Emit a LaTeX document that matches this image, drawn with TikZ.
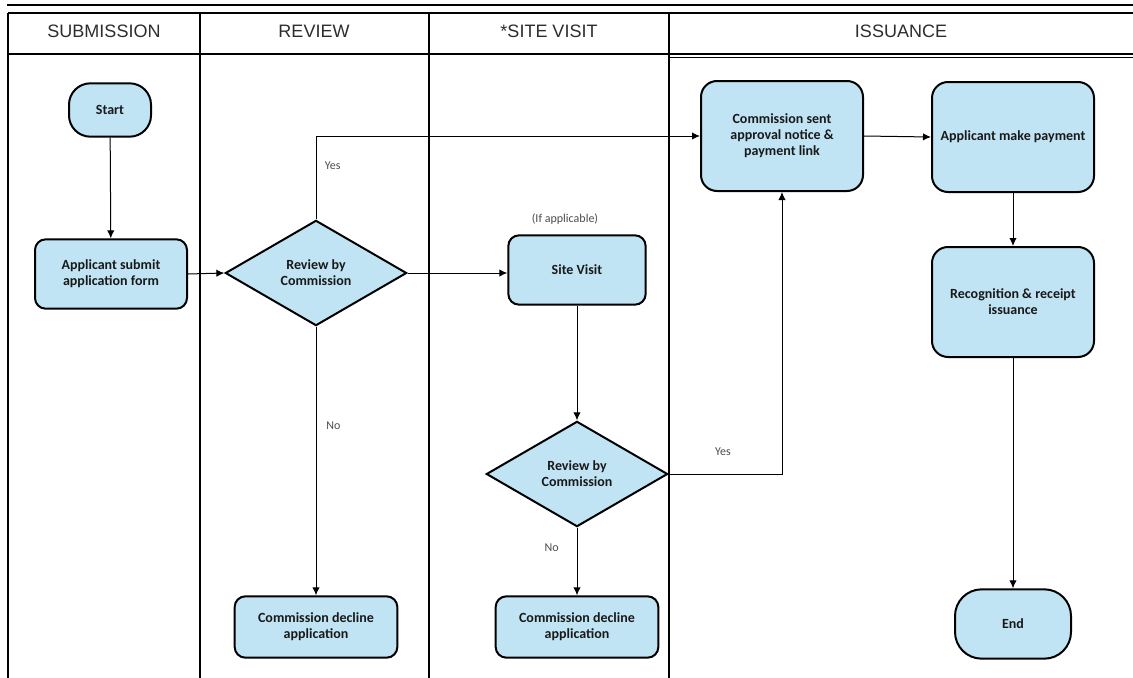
\documentclass[tikz,border=0pt]{standalone}
\usepackage{fontspec}
\setmainfont{Carlito}
\newfontfamily\lanefont{Liberation Sans}
\usepackage{tikz}
\usetikzlibrary{shapes,arrows,positioning,calc,arrows.meta}

\definecolor{boxblue}{RGB}{193,228,244}
\definecolor{lanegray}{RGB}{45,45,45}

\begin{document}
\begin{tikzpicture}[x=0.75pt, y=-0.75pt,
    box/.style={draw, line width=1.5pt, fill=boxblue, rounded corners=8pt, align=center,
        font=\bfseries\fontsize{10.5}{12}\selectfont, text=black!90},
    bigbox/.style={box, rounded corners=12pt, minimum width=121.5pt, minimum height=82.5pt},
    terminal/.style={box, minimum height=52pt},
    decision/.style={box, diamond, rounded corners=0pt, minimum width=136pt, minimum height=79pt, inner sep=0pt},
    flow/.style={-{Latex[length=6pt,width=5.5pt]}, line width=0.75pt},
    lane/.style={font=\lanefont\fontsize{13.5}{15}\selectfont, text=lanegray},
    note/.style={font=\fontsize{9}{10}\selectfont, text=black!70}]

    \useasboundingbox (0,0) rectangle (1133,678);

    % Swimlanes
    \draw[line width=1pt] (7,5) -- (1133,5);
    \draw[line width=0.8pt] (8,13) -- (1133,13);
    \draw[line width=0.8pt] (8,54) -- (1133,54);
    \draw (669,57) -- (1133,57);
    \draw[line width=0.8pt] (8,13) -- (8,678);
    \draw[line width=0.8pt] (200,13) -- (200,678);
    \draw[line width=1.6pt] (429,13) -- (429,678);
    \draw[line width=1.6pt] (429,54) -- (669,54);
    \draw[line width=0.8pt] (669,13) -- (669,678);

    \node[lane] (laneSubmit) at (104,31) {SUBMISSION};
    \node[lane] (laneReview) at (314,31) {REVIEW};
    \node[lane] (laneSite) at (549,31) {*SITE VISIT};
    \node[lane] (laneIssue) at (901,31) {ISSUANCE};

    % Submission
    \node[terminal, rounded corners=16pt, minimum width=61.5pt, minimum height=40pt] (start) at (110,110) {Start};
    \node[box, minimum width=114pt, minimum height=52pt] (submit) at (111,274) {Applicant submit\\application form};

    % Review
    \node[decision] (review1) at (316,273) {Review by\\Commission};
    \node[box, minimum width=122pt, minimum height=46pt] (decline1) at (316,627) {Commission decline\\application};

    % Site visit
    \node[note] (ifapp) at (565,219) {(If applicable)};
    \node[box, minimum width=103pt, minimum height=52pt] (visit) at (577,270) {Site Visit};
    \node[decision] (review2) at (577,474) {Review by\\Commission};
    \node[box, minimum width=122pt, minimum height=46pt] (decline2) at (577,627) {Commission decline\\application};

    % Issuance
    \node[bigbox] (notice) at (782,136) {Commission sent\\approval notice \&\\payment link};
    \node[bigbox] (payment) at (1013,137) {Applicant make payment};
    \node[bigbox] (receipt) at (1013,302) {Recognition \& receipt\\issuance};
    \node[terminal, rounded corners=20pt, minimum width=87pt] (finish) at (1013,624) {End};

    % Connectors
    \draw[flow] (start) -- (submit);
    \draw[flow] (submit.east) -- (review1.west);
    \draw[flow] (review1.north) |- node[note, pos=0.32, right, xshift=3pt] {Yes} (notice.west);
    \draw[flow] (review1.east) -- (review1.east -| visit.west);
    \draw[flow] (review1.south) -- node[note, pos=0.37, right, xshift=4pt] {No} (decline1.north);
    \draw[flow] (visit.south) -- (review2.north);
    \draw[flow] (review2.south) -- node[note, pos=0.3, left, xshift=-10pt] {No} (decline2.north);
    \draw[flow] (review2.east) -| node[note, pos=0.24, above, yshift=10pt] {Yes} (notice.south);
    \draw[flow] (notice.east) -- (payment.west);
    \draw[flow] (payment.south) -- (receipt.north);
    \draw[flow] (receipt.south) -- (finish.north);
\end{tikzpicture}
\end{document}
